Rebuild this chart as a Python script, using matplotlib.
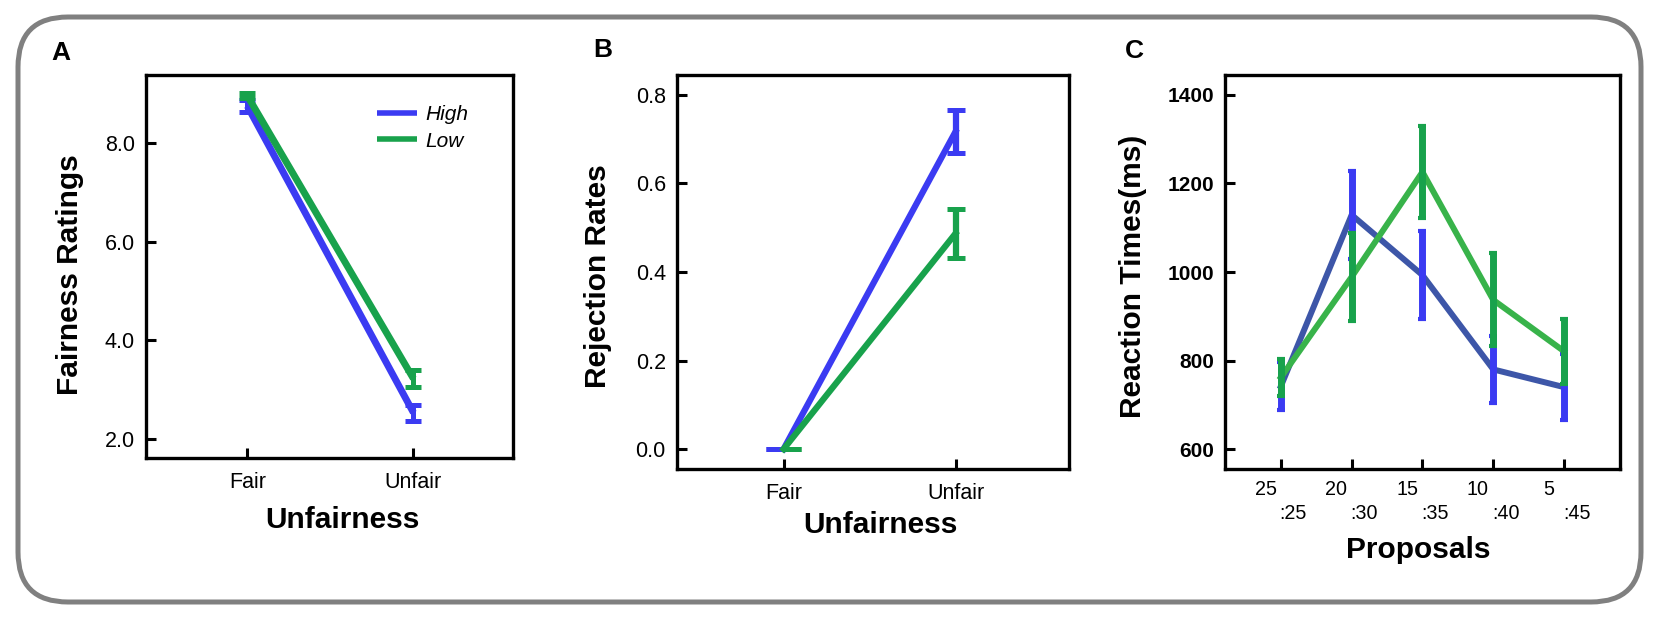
import matplotlib
matplotlib.use('Agg')
import matplotlib.pyplot as plt
from matplotlib.patches import FancyBboxPatch

plt.rcParams['font.family'] = ['Liberation Sans', 'DejaVu Sans']

# ---- data
groups = ['High', 'Low']
cond_labels = ['Fair', 'Unfair']
cond_x = [0, 1]

fair_high = [8.75, 2.53]
fair_high_err = [0.12, 0.16]
fair_low = [8.96, 3.22]
fair_low_err = [0.05, 0.17]

rej_high = [0.0, 0.717]
rej_high_err = [0.0, 0.049]
rej_low = [0.0, 0.487]
rej_low_err = [0.0, 0.055]

prop_top = ['25', '20', '15', '10', '5']
prop_bot = [':25', ':30', ':35', ':40', ':45']
prop_x = [0, 1, 2, 3, 4]
rt_high = [742, 1129, 993, 780, 740]
rt_high_err = [54, 100, 100, 76, 75]
rt_low = [762, 989, 1226, 937, 821]
rt_low_err = [41, 100, 103, 105, 73]

BLUE = '#3b3bf2'
GREEN = '#18a24c'
BLUE_LINE_C = '#3d56a8'
GREEN_LINE_C = '#38b34a'

TICK_FS = 15.5
LABEL_FS = 21.5

fig = plt.figure(figsize=(16.54, 6.19), dpi=100)

# rounded frame around everything
frame = FancyBboxPatch((0.18, 0.17), 16.23, 5.85,
                       boxstyle='round,pad=0,rounding_size=0.5',
                       transform=fig.dpi_scale_trans, fill=False,
                       edgecolor='#808080', linewidth=3.6)
fig.patches.append(frame)

axA = fig.add_axes([0.0883, 0.2601, 0.2219, 0.6187])
axB = fig.add_axes([0.4093, 0.2423, 0.2370, 0.6365])
axC = fig.add_axes([0.7406, 0.2423, 0.2388, 0.6365])

for ax in (axA, axB, axC):
    for s in ax.spines.values():
        s.set_linewidth(2.4)
    ax.tick_params(direction='in', length=7, width=2.2, labelsize=TICK_FS)

# ---- A
axA.plot(cond_x, fair_high, color=BLUE, lw=5, label='High', solid_capstyle='butt')
axA.errorbar(cond_x, fair_high, yerr=fair_high_err, fmt='none', ecolor=BLUE,
             elinewidth=3.6, capsize=6, capthick=3.6)
axA.plot(cond_x, fair_low, color=GREEN, lw=5, label='Low', solid_capstyle='butt')
axA.errorbar(cond_x, fair_low, yerr=fair_low_err, fmt='none', ecolor=GREEN,
             elinewidth=3.6, capsize=6, capthick=3.6)
axA.set_xlim(-0.61, 1.60)
axA.set_ylim(1.61, 9.38)
axA.set_yticks([2, 4, 6, 8])
axA.set_yticklabels(['2.0', '4.0', '6.0', '8.0'])
axA.set_xticks(cond_x)
axA.set_xticklabels(cond_labels)
axA.tick_params(axis='x', pad=10)
axA.tick_params(axis='y', pad=8)
axA.set_xlabel('Unfairness', fontsize=LABEL_FS, fontweight='bold')
axA.xaxis.set_label_coords(0.534, -0.162)
axA.xaxis.label.set_va('center')
axA.set_ylabel('Fairness Ratings', fontsize=LABEL_FS, fontweight='bold')
axA.yaxis.set_label_coords(-0.207, 0.48)
axA.yaxis.label.set_va('center')
leg = axA.legend(loc='upper right', bbox_to_anchor=(0.93, 0.97), frameon=False,
                 prop={'style': 'italic', 'size': 15}, handlelength=1.95,
                 handletextpad=0.4, labelspacing=0.35)
for h in leg.get_lines():
    h.set_linewidth(4)

# ---- B
axB.plot(cond_x, rej_high, color=BLUE, lw=4.5)
axB.errorbar([-0.05, 1], rej_high, yerr=rej_high_err, fmt='none', ecolor=BLUE,
             elinewidth=4.5, capsize=6.5, capthick=3.6)
axB.plot(cond_x, rej_low, color=GREEN, lw=4.5)
axB.errorbar([0.05, 1], rej_low, yerr=rej_low_err, fmt='none', ecolor=GREEN,
             elinewidth=4.5, capsize=6.5, capthick=3.6)
axB.set_xlim(-0.62, 1.66)
axB.set_ylim(-0.045, 0.845)
axB.set_yticks([0.0, 0.2, 0.4, 0.6, 0.8])
axB.set_yticklabels(['0.0', '0.2', '0.4', '0.6', '0.8'])
axB.set_xticks(cond_x)
axB.set_xticklabels(cond_labels)
axB.tick_params(axis='x', pad=10)
axB.tick_params(axis='y', pad=8)
axB.set_xlabel('Unfairness', fontsize=LABEL_FS, fontweight='bold')
axB.xaxis.set_label_coords(0.52, -0.142)
axB.xaxis.label.set_va('center')
axB.set_ylabel('Rejection Rates', fontsize=LABEL_FS, fontweight='bold')
axB.yaxis.set_label_coords(-0.2015, 0.49)
axB.yaxis.label.set_va('center')

# ---- C
axC.plot(prop_x, rt_high, color=BLUE_LINE_C, lw=4.3)
axC.errorbar(prop_x, rt_high, yerr=rt_high_err, fmt='none', ecolor=BLUE,
             elinewidth=5, capsize=3, capthick=3)
axC.plot(prop_x, rt_low, color=GREEN_LINE_C, lw=4.3)
axC.errorbar(prop_x, rt_low, yerr=rt_low_err, fmt='none', ecolor=GREEN,
             elinewidth=5, capsize=3, capthick=3)
axC.set_xlim(-0.79, 4.79)
axC.set_ylim(555, 1445)
axC.set_yticks([600, 800, 1000, 1200, 1400])
axC.tick_params(axis='y', pad=8, labelsize=15)
for t in axC.get_yticklabels():
    t.set_fontweight('bold')
axC.set_xticks(prop_x)
axC.set_xticklabels([''] * len(prop_x))
for x, t1, t2 in zip(prop_x, prop_top, prop_bot):
    axC.annotate(t1, xy=(x, 0), xycoords=('data', 'axes fraction'),
                 xytext=(-11, -14.5), textcoords='offset points',
                 ha='center', va='center', fontsize=14.2)
    axC.annotate(t2, xy=(x, 0), xycoords=('data', 'axes fraction'),
                 xytext=(9, -32), textcoords='offset points',
                 ha='center', va='center', fontsize=14.2)
axC.set_xlabel('Proposals', fontsize=LABEL_FS, fontweight='bold')
axC.xaxis.set_label_coords(0.49, -0.206)
axC.xaxis.label.set_va('center')
axC.set_ylabel('Reaction Times(ms)', fontsize=LABEL_FS, fontweight='bold')
axC.yaxis.set_label_coords(-0.233, 0.49)
axC.yaxis.label.set_va('center')

# panel letters
fig.text(61 / 1654, 1 - 53 / 619, 'A', fontsize=19, fontweight='bold', ha='center', va='center')
fig.text(603 / 1654, 1 - 50 / 619, 'B', fontsize=19, fontweight='bold', ha='center', va='center')
fig.text(1134 / 1654, 1 - 51 / 619, 'C', fontsize=19, fontweight='bold', ha='center', va='center')

fig.savefig('out.png', dpi=100)
